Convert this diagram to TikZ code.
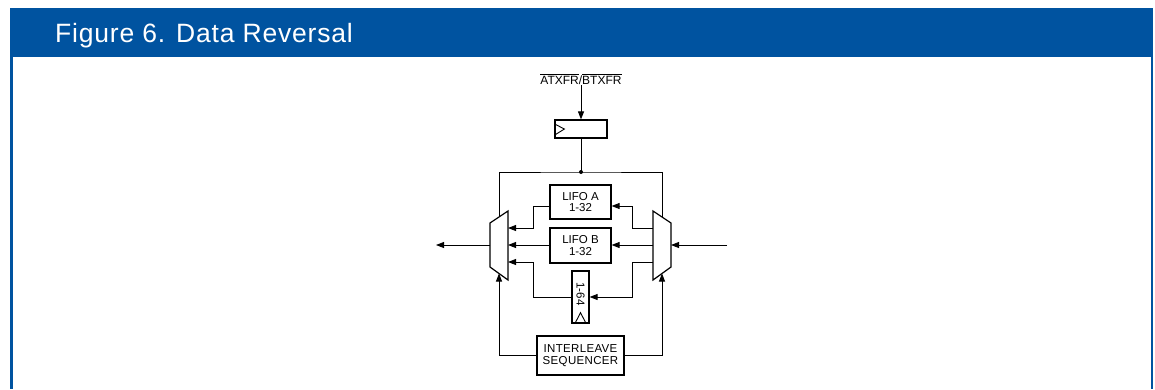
\documentclass[tikz,border=0pt]{standalone}
\usepackage{fontspec}
\setmainfont{Liberation Sans}
\usetikzlibrary{arrows.meta,positioning,calc}
\definecolor{hdrblue}{RGB}{0,83,160}

\begin{document}
\begin{tikzpicture}[x=1pt, y=-1pt,
    blk/.style={rectangle, draw, line width=1.2pt, inner sep=0pt, font=\fontsize{11.5}{11.5}\selectfont, align=center},
    arr/.style={-{Triangle[length=8pt, width=6pt]}, line width=0.9pt},
    wire/.style={line width=0.9pt},
    mux/.style={draw, line width=1.2pt, fill=white}
]
\useasboundingbox (0,0) rectangle (1155,389);

% Frame with title bar
\fill[hdrblue] (10,8) rectangle (1153,57);
\draw[hdrblue, line width=2.5pt] (11.5,57) -- (11.5,389);
\draw[hdrblue, line width=2.5pt] (1151.8,57) -- (1151.8,389);
\node[anchor=base west, inner sep=0pt, text=white, font=\fontsize{26.5}{28}\selectfont\addfontfeatures{LetterSpace=3}] (title) at (55,42.5) {Figure 6. Data Reversal};

% Transfer signal and clocked register
\node[font=\fontsize{12}{13}\selectfont, inner sep=1pt] (xfr) at (581,79) {$\overline{\mbox{ATXFR}}$/$\overline{\mbox{BTXFR}}$};
\node[blk, minimum width=52pt, minimum height=18pt] (reg) at (581,129) {};
\draw[wire] ($(reg.north west)+(1,5)$) -- ($(reg.west)+(10,0)$) -- ($(reg.south west)+(1,-4)$);
\draw[arr] (xfr) -- (reg);

% Multiplexers (left = output side, right = input side)
\draw[mux] (490,223) -- (508,211) -- (508,280) -- (490,267) -- cycle;
\draw[mux] (671,223) -- (653,211) -- (653,280) -- (671,267) -- cycle;
\coordinate (muxlT) at (499,217);
\coordinate (muxlB) at (499,273.5);
\coordinate (muxrT) at (662,217);
\coordinate (muxrB) at (662,273.5);
\coordinate (mlA) at (508,228);
\coordinate (mlB) at (508,245);
\coordinate (mlC) at (508,262);
\coordinate (mlO) at (490,245);
\coordinate (mrA) at (653,228);
\coordinate (mrB) at (653,245);
\coordinate (mrC) at (653,262);
\coordinate (mrI) at (671,245);
\coordinate (outL) at (436,245);
\coordinate (inR) at (727,245);

% Select line from register
\coordinate (tap) at (581,172);
\draw[wire] (reg) -- (tap);
\fill (tap) circle (2pt);
\draw[wire] (muxlT) |- (tap) -| (muxrT);

% Storage blocks
\node[blk, minimum width=61pt, minimum height=34pt] (lifoa) at (580.5,202) {LIFO A\\1-32};
\node[blk, minimum width=61pt, minimum height=35pt] (lifob) at (580.5,245.5) {LIFO B\\1-32};
\node[blk, minimum width=17pt, minimum height=52pt] (fifo) at (580.5,297) {};
\node[rotate=-90, inner sep=0pt, font=\fontsize{11.5}{12}\selectfont] (fifolbl) at (580.5,294) {1-64};
\draw[wire] ($(fifo.south west)+(3.5,0)$) -- ($(fifo.south)+(0,-11)$) -- ($(fifo.south east)+(-3.5,0)$);
\node[blk, minimum width=87pt, minimum height=39pt, font=\fontsize{11.5}{11.5}\selectfont\addfontfeatures{LetterSpace=3}] (seq) at (580.5,355.5) {INTERLEAVE\\SEQUENCER};

% Data paths
\draw[arr] (inR) -- (mrI);
\draw[arr] (mlO) -- (outL);
\draw[arr] (mrA) -- ++(-21,0) |- ([yshift=-4pt]lifoa.east);
\draw[arr] (mrB) -- (mrB -| lifob.east);
\draw[arr] (mrC) -- ++(-21,0) |- (fifo.east);
\draw[arr] ([yshift=-4pt]lifoa.west) -- ++(-16,0) |- (mlA);
\draw[arr] (mlB -| lifob.west) -- (mlB);
\draw[arr] (fifo.west) -- ++(-38,0) |- (mlC);

% Sequencer controls
\draw[arr] (seq.west) -| (muxlB);
\draw[arr] (seq.east) -| (muxrB);

\end{tikzpicture}
\end{document}
